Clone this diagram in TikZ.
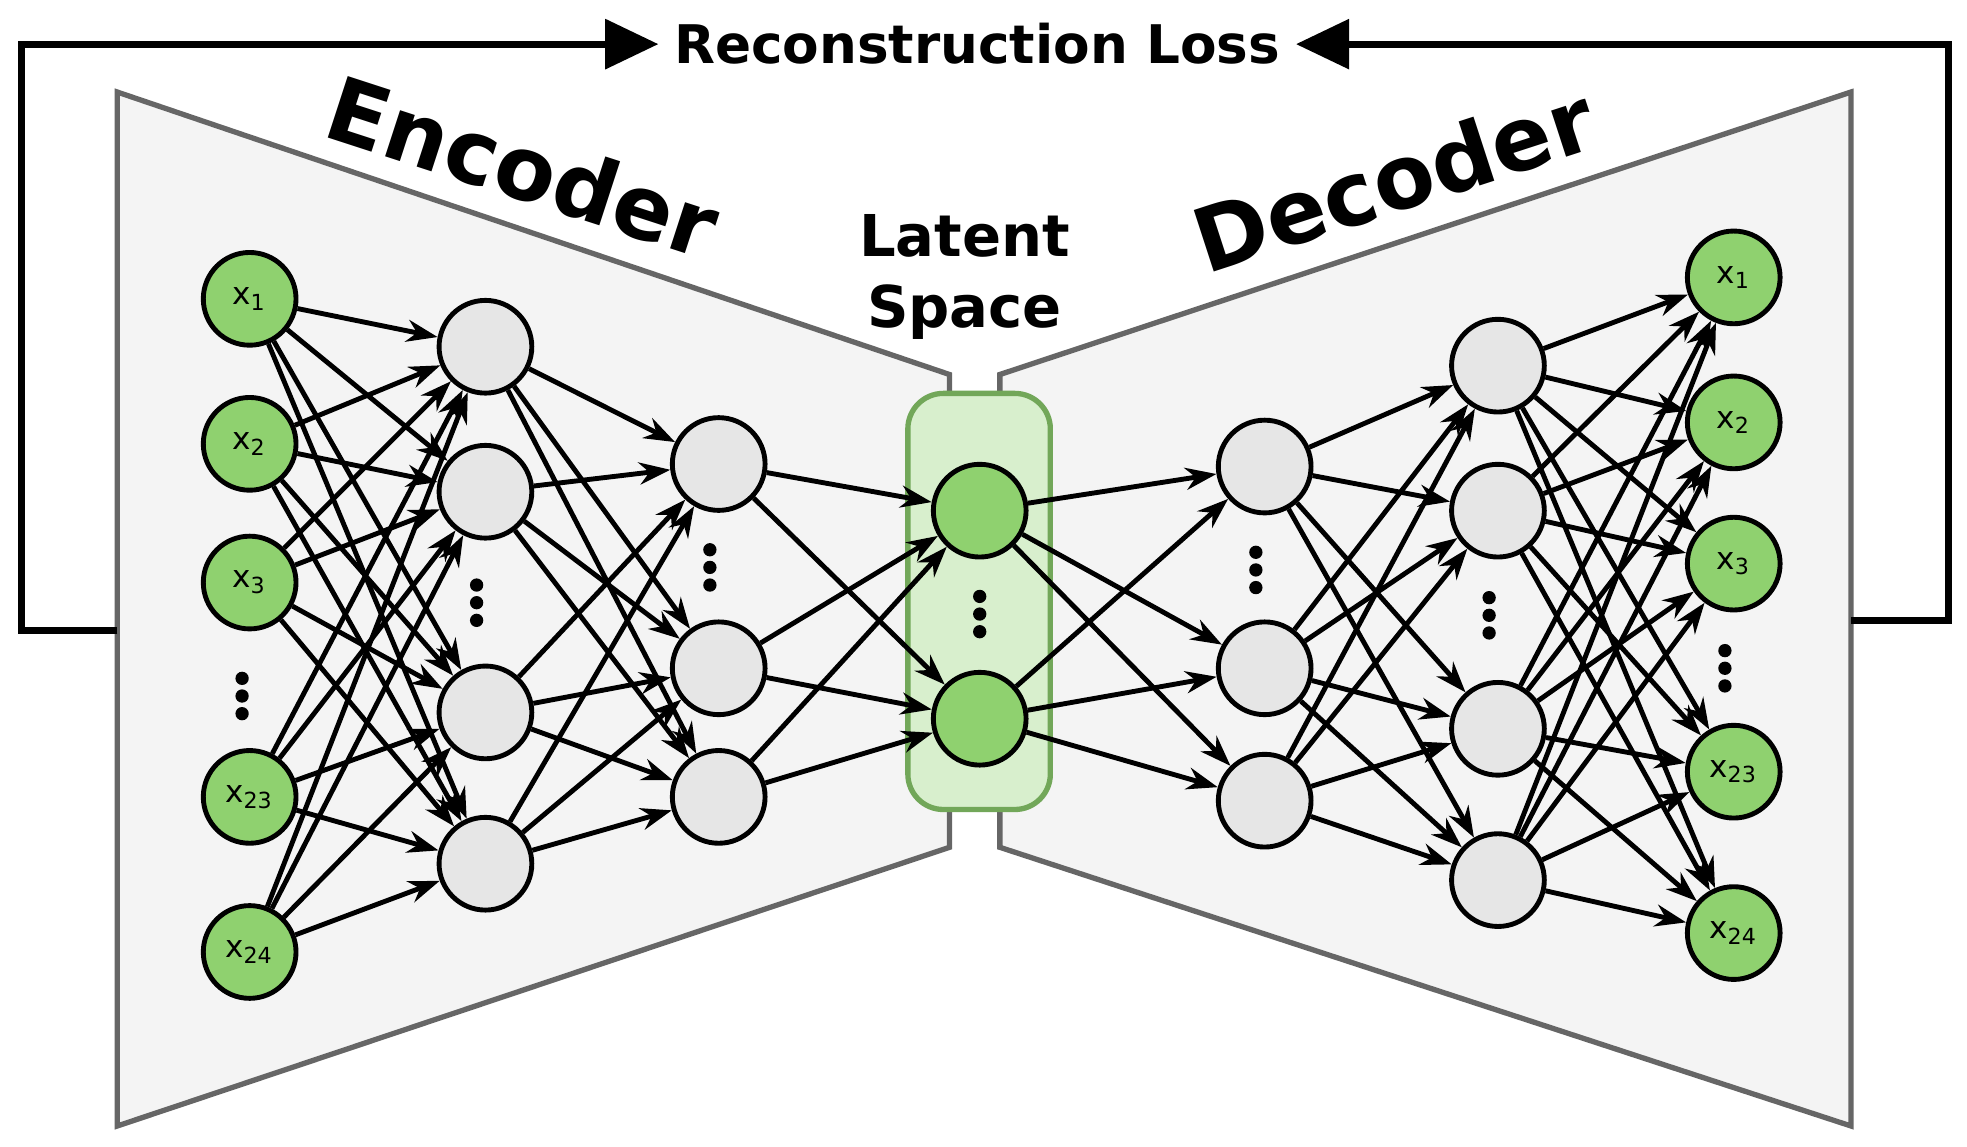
\documentclass[tikz,border=0pt]{standalone}
\usepackage{fontspec}
\setmainfont{DejaVu Sans}
\usetikzlibrary{arrows.meta}
\definecolor{ngreen}{HTML}{8FD16F}
\definecolor{ngray}{HTML}{E6E6E6}
\definecolor{panel}{HTML}{F4F4F4}
\begin{document}
\begin{tikzpicture}[x=0.01cm,y=-0.01cm,
  panelst/.style={fill=panel,draw=gray!80!black,line width=1.2pt},
  nd/.style={circle,draw=black,line width=1.1pt,minimum size=2.1cm*0.35,inner sep=0pt,font=\fontsize{7}{8}\selectfont},
  gn/.style={nd,fill=ngreen},
  yn/.style={nd,fill=ngray},
  ed/.style={-{Stealth[length=7pt,width=5pt]},line width=1.1pt},
  loop/.style={line width=1.6pt},
  dot/.style={circle,fill=black,inner sep=0pt,minimum size=3pt}]
\useasboundingbox (0,0) rectangle (1560,909);
\draw[panelst] (93,73) -- (753,297) -- (753,672) -- (93,893) -- cycle;
\draw[panelst] (793,297) -- (1468,73) -- (1468,893) -- (793,672) -- cycle;
\node[font=\bfseries\fontsize{12}{14}\selectfont] (title) at (775,35) {Reconstruction Loss};
\coordinate (l0) at (93,500); \coordinate (l1) at (17,500); \coordinate (l2) at (17,35);
\coordinate (r0) at (1468,492); \coordinate (r1) at (1545,492); \coordinate (r2) at (1545,35);
\draw[loop,-{Triangle[length=12pt,width=11pt]}] (l0) -- (l1) -- (l2) -- (title.west);
\draw[loop,-{Triangle[length=12pt,width=11pt]}] (r0) -- (r1) -- (r2) -- (title.east);
\node[font=\bfseries\fontsize{20}{24}\selectfont,rotate=-18,inner sep=0pt] (enc) at (415,132) {Encoder};
\node[font=\bfseries\fontsize{20}{24}\selectfont,rotate=18,inner sep=0pt] (dec) at (1105,142) {Decoder};
\node[font=\bfseries\fontsize{13}{16}\selectfont,align=center] (lat) at (765,220) {Latent\\Space};
\draw[draw=ngreen!80!black,fill=ngreen!35,line width=1.2pt,rounded corners=8pt] (720,312) rectangle (833,642);
\foreach \y/\t [count=\i] in {237/1,352/2,462/3,632/23,755/24}
  \node[gn] (a\i) at (198,\y) {x\textsubscript{\t}};
\foreach \y [count=\i] in {275,390,565,685} \node[yn] (b\i) at (385,\y) {};
\foreach \y [count=\i] in {368,530,632} \node[yn] (c\i) at (570,\y) {};
\foreach \y [count=\i] in {405,570} \node[gn] (d\i) at (777,\y) {};
\foreach \y [count=\i] in {370,530,635} \node[yn] (e\i) at (1003,\y) {};
\foreach \y [count=\i] in {290,405,578,698} \node[yn] (f\i) at (1188,\y) {};
\foreach \y/\t [count=\i] in {220/1,335/2,447/3,612/23,740/24}
  \node[gn] (g\i) at (1375,\y) {x\textsubscript{\t}};
\foreach \x/\y [count=\k] in {192/552,378/478,563/450,777/487,996/452,1181/488,1368/530}{
  \node[dot] (p\k a) at (\x,\y-14) {};
  \node[dot] (p\k b) at (\x,\y) {};
  \node[dot] (p\k c) at (\x,\y+14) {};}
\foreach \i in {1,...,5}\foreach \j in {1,...,4} \draw[ed] (a\i) -- (b\j);
\foreach \i in {1,...,4}\foreach \j in {1,...,3} \draw[ed] (b\i) -- (c\j);
\foreach \i in {1,...,3}\foreach \j in {1,2} \draw[ed] (c\i) -- (d\j);
\foreach \i in {1,2}\foreach \j in {1,...,3} \draw[ed] (d\i) -- (e\j);
\foreach \i in {1,...,3}\foreach \j in {1,...,4} \draw[ed] (e\i) -- (f\j);
\foreach \i in {1,...,4}\foreach \j in {1,...,5} \draw[ed] (f\i) -- (g\j);
\end{tikzpicture}
\end{document}
